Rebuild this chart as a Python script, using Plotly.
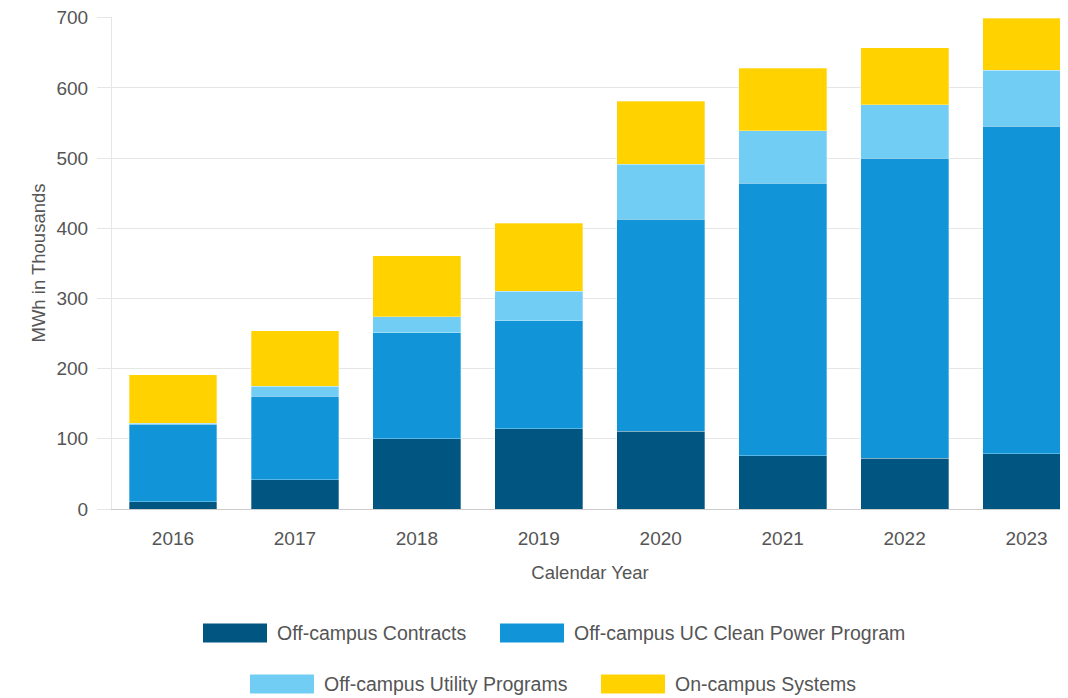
import plotly.graph_objects as go

years = ["2016", "2017", "2018", "2019", "2020", "2021", "2022", "2023"]
series_names = ["Off-campus Contracts", "Off-campus UC Clean Power Program",
                "Off-campus Utility Programs", "On-campus Systems"]
contracts = [10, 42, 100, 114, 111, 76, 72, 79]
uc_clean = [111, 119, 151, 154, 302, 388, 428, 466]
utility = [1, 14, 23, 42, 78, 75, 76, 80]
on_campus = [69, 79, 87, 97, 90, 89, 81, 74]
series_values = [contracts, uc_clean, utility, on_campus]
colors = ["#005581", "#1295D8", "#72CDF4", "#FFD200"]
y_ticks = [0, 100, 200, 300, 400, 500, 600, 700]

# page has an 8px body margin; figure sized so it fits the 1068x698 window
W, H = 1060, 690
L, R, T, B = 104, 0, 9, 189
pw, ph = W - L - R, H - T - B
OFF = 8
FONT = "Liberation Sans, Arial, sans-serif"
TXT = "#555555"

fig = go.Figure()
for name, vals, col in zip(series_names, series_values, colors):
    fig.add_trace(go.Bar(x=years, y=vals, name=name, marker_color=col,
                         marker_line_color="rgba(255,255,255,0.6)", marker_line_width=0.5,
                         showlegend=False))

def px2x(p):
    return (p - OFF - L) / pw

def py2y(p):
    return (H - B - (p - OFF)) / ph

# manual legend (wide swatches as in reference), positions in window pixels
legend_layout = [(203, 633), (500, 633), (250, 684), (601, 684)]
shapes = []
annotations = []
for (sx, cy), name, col in zip(legend_layout, series_names, colors):
    shapes.append(dict(type="rect", xref="paper", yref="paper",
                       x0=px2x(sx), x1=px2x(sx + 64), y0=py2y(cy + 9.5), y1=py2y(cy - 9.5),
                       fillcolor=col, line_width=0, layer="above"))
    annotations.append(dict(xref="paper", yref="paper", x=px2x(sx + 72), y=py2y(cy),
                            xanchor="left", yanchor="middle", text=name, showarrow=False,
                            font=dict(family=FONT, size=19.5, color=TXT)))

fig.update_layout(
    barmode="stack",
    bargap=0.28,
    width=W, height=H,
    margin=dict(l=L, r=R, t=T, b=B, pad=0),
    paper_bgcolor="white", plot_bgcolor="white",
    font=dict(family=FONT, size=19, color=TXT),
    shapes=shapes,
    annotations=annotations,
    xaxis=dict(type="category", range=[-0.5, 7.34], showgrid=False,
               showline=True, linecolor="#cccccc", linewidth=1,
               ticks="", ticklabelstandoff=12,
               tickfont=dict(family=FONT, size=19, color=TXT),
               title=dict(text="Calendar Year", standoff=18,
                          font=dict(family=FONT, size=18.5, color=TXT))),
    yaxis=dict(range=[0, 701], tickvals=y_ticks, showgrid=True, gridcolor="#e6e6e6",
               gridwidth=1, zeroline=False, showline=True, linecolor="#e6e6e6",
               ticks="outside", ticklen=14, tickcolor="#e6e6e6", ticklabelstandoff=5,
               ticklabeloverflow="allow",
               tickfont=dict(family=FONT, size=19, color=TXT),
               title=dict(text="MWh in Thousands", standoff=6,
                          font=dict(family=FONT, size=18.5, color=TXT))),
)

fig.write_html("out.html")
